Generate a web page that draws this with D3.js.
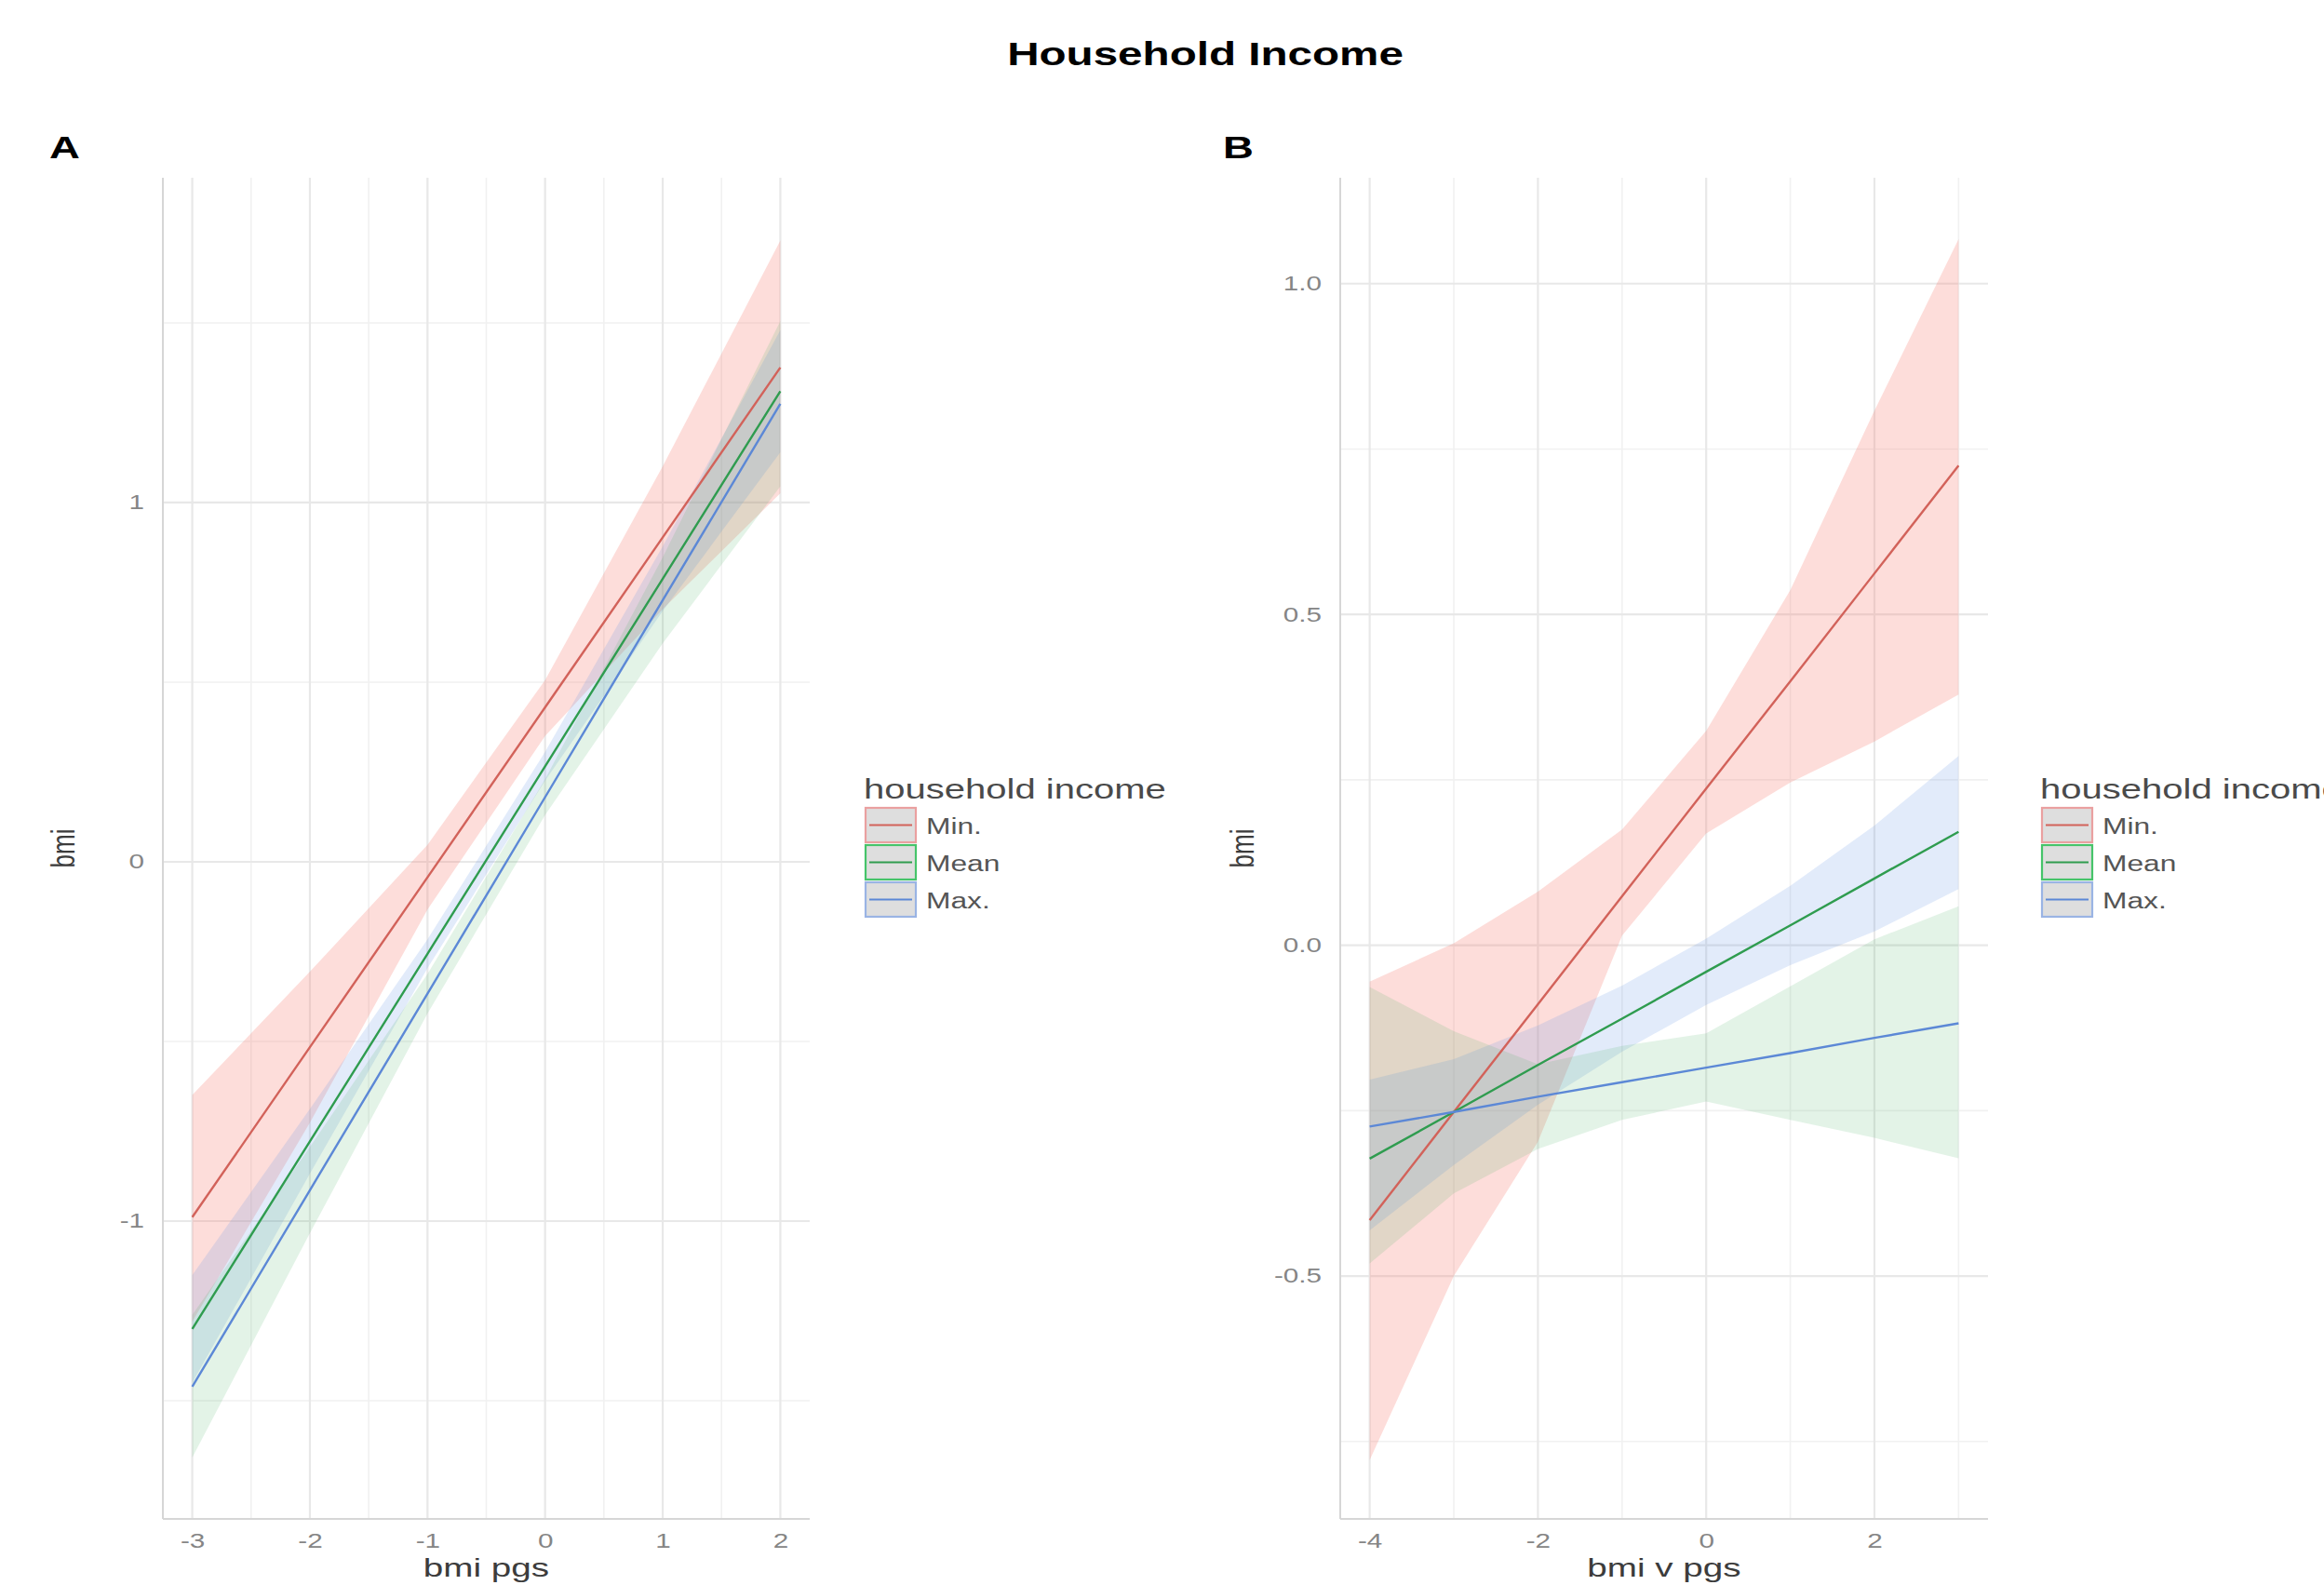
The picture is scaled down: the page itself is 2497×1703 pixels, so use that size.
<!DOCTYPE html>
<html>
<head>
<meta charset="utf-8">
<script src="https://cdn.jsdelivr.net/npm/d3@7"></script>
<style>
  html, body { margin: 0; padding: 0; background: #ffffff; }
  svg { display: block; font-family: "Liberation Sans", Arial, sans-serif; }
</style>
</head>
<body>
<script>
// ---- series and labels ----
const seriesNames = ["Min.", "Mean", "Max."];
const lineColors = ["#d2625a", "#2f9c4f", "#5c88d6"];
// ribbon fills (as rendered by the effects plot, fills follow this order)
const ribbonColors = ["#f8766d", "#6c9de6", "#45ad5c"];
const ribbonOpacity = [0.25, 0.2, 0.15];
const legendBorders = ["#eaa0a0", "#46c46a", "#9ab4e4"];

// ---- panel A: bmi pgs ----
const xA = [-3, -2, -1, 0, 1, 2];
const fitA_min  = [-0.989, -0.516, -0.043, 0.430, 0.903, 1.376];
const lowA_min  = [-1.280, -0.726, -0.133, 0.350, 0.703, 1.026];
const highA_min = [-0.649, -0.306, 0.047, 0.506, 1.101, 1.729];
const fitA_mean  = [-1.300, -0.778, -0.256, 0.266, 0.788, 1.310];
const lowA_mean  = [-1.450, -0.868, -0.296, 0.226, 0.698, 1.140];
const highA_mean = [-1.150, -0.688, -0.216, 0.306, 0.878, 1.480];
const fitA_max  = [-1.461, -0.914, -0.367, 0.180, 0.728, 1.275];
const lowA_max  = [-1.658, -1.034, -0.422, 0.130, 0.608, 1.045];
const highA_max = [-1.261, -0.794, -0.312, 0.230, 0.848, 1.505];

const xTicksA = [-3, -2, -1, 0, 1, 2];
const xMinorA = [-2.5, -1.5, -0.5, 0.5, 1.5];
const yTicksA = [-1, 0, 1];
const yMinorA = [-1.5, -0.5, 0.5, 1.5];
const xDomainA = [-3.25, 2.25];
const yDomainA = [-1.829, 1.904];

// ---- panel B: bmi v pgs ----
const xB = [-4, -3, -2, -1, 0, 1, 2, 3];
const fitB_min  = [-0.4155, -0.252, -0.089, 0.074, 0.237, 0.399, 0.562, 0.725];
const lowB_min  = [-0.778, -0.500, -0.297, 0.0145, 0.169, 0.246, 0.308, 0.379];
const highB_min = [-0.055, 0.003, 0.081, 0.175, 0.324, 0.537, 0.808, 1.067];
const fitB_mean  = [-0.3225, -0.252, -0.181, -0.111, -0.040, 0.030, 0.101, 0.1715];
const lowB_mean  = [-0.431, -0.332, -0.241, -0.161, -0.090, -0.030, 0.021, 0.085];
const highB_mean = [-0.203, -0.172, -0.121, -0.061, 0.010, 0.090, 0.181, 0.286];
const fitB_max  = [-0.274, -0.252, -0.229, -0.207, -0.185, -0.163, -0.140, -0.118];
const lowB_max  = [-0.481, -0.375, -0.308, -0.264, -0.236, -0.264, -0.291, -0.322];
const highB_max = [-0.063, -0.130, -0.180, -0.152, -0.133, -0.062, 0.009, 0.059];

const xTicksB = [-4, -2, 0, 2];
const xMinorB = [-3, -1, 1, 3];
const yTicksB = [-0.5, 0, 0.5, 1.0];
const yMinorB = [-0.75, -0.25, 0.25, 0.75];
const xDomainB = [-4.35, 3.35];
const yDomainB = [-0.867, 1.160];

const chartTitle = "Household Income";
const legendTitle = "household income";

// ---- drawing ----
const W = 2497, H = 1703;
const SX = 1.38; // horizontal glyph stretch used throughout the figure

const svg = d3.select("body").append("svg")
  .attr("width", W).attr("height", H)
  .attr("viewBox", `0 0 ${W} ${H}`);
svg.append("rect").attr("width", W).attr("height", H).attr("fill", "#ffffff");

function stretchedText(parent, x, y, str, size, opts = {}) {
  const g = parent.append("g")
    .attr("transform", `translate(${x},${y}) scale(${SX},1)` + (opts.rotate ? ` rotate(${opts.rotate})` : ""));
  return g.append("text")
    .text(str)
    .attr("font-size", size)
    .attr("font-weight", opts.bold ? "bold" : "normal")
    .attr("fill", opts.fill || "#333333")
    .attr("text-anchor", opts.anchor || "start")
    .attr("dy", opts.dy || 0);
}

function zipSeries(xs, fit, low, high) {
  return xs.map((x, i) => ({ x, fit: fit[i], low: low[i], high: high[i] }));
}

function drawPanel(cfg) {
  const g = svg.append("g");
  const x = d3.scaleLinear().domain(cfg.xDomain).range([cfg.left, cfg.right]);
  const y = d3.scaleLinear().domain(cfg.yDomain).range([cfg.bottom, cfg.top]);

  // minor grid
  g.append("g").selectAll("line").data(cfg.xMinor).join("line")
    .attr("x1", d => x(d)).attr("x2", d => x(d))
    .attr("y1", cfg.top).attr("y2", cfg.bottom)
    .attr("stroke", "#f1f1f1").attr("stroke-width", 1.6);
  g.append("g").selectAll("line").data(cfg.yMinor).join("line")
    .attr("y1", d => y(d)).attr("y2", d => y(d))
    .attr("x1", cfg.left).attr("x2", cfg.right)
    .attr("stroke", "#f1f1f1").attr("stroke-width", 1.6);
  // major grid
  g.append("g").selectAll("line").data(cfg.xTicks).join("line")
    .attr("x1", d => x(d)).attr("x2", d => x(d))
    .attr("y1", cfg.top).attr("y2", cfg.bottom)
    .attr("stroke", "#e8e8e8").attr("stroke-width", 2.2);
  g.append("g").selectAll("line").data(cfg.yTicks).join("line")
    .attr("y1", d => y(d)).attr("y2", d => y(d))
    .attr("x1", cfg.left).attr("x2", cfg.right)
    .attr("stroke", "#e8e8e8").attr("stroke-width", 2.2);

  // axis lines
  g.append("line").attr("x1", cfg.left).attr("x2", cfg.left)
    .attr("y1", cfg.top).attr("y2", cfg.bottom)
    .attr("stroke", "#d6d6d6").attr("stroke-width", 2);
  g.append("line").attr("x1", cfg.left).attr("x2", cfg.right)
    .attr("y1", cfg.bottom).attr("y2", cfg.bottom)
    .attr("stroke", "#d6d6d6").attr("stroke-width", 2);

  // confidence ribbons
  const area = d3.area().x(d => x(d.x)).y0(d => y(d.low)).y1(d => y(d.high));
  cfg.series.forEach((s, i) => {
    g.append("path").datum(s)
      .attr("d", area)
      .attr("fill", ribbonColors[i])
      .attr("fill-opacity", ribbonOpacity[i])
      .attr("stroke", "none");
  });
  // predicted lines
  const line = d3.line().x(d => x(d.x)).y(d => y(d.fit));
  cfg.series.forEach((s, i) => {
    g.append("path").datum(s)
      .attr("d", line)
      .attr("fill", "none")
      .attr("stroke", lineColors[i])
      .attr("stroke-width", 2.4);
  });

  // tick labels
  const yAxis = d3.axisLeft(y).tickValues(cfg.yTicks).tickFormat(cfg.yFormat).tickSize(0).tickPadding(0);
  const ya = g.append("g").attr("transform", `translate(${cfg.left},0)`).call(yAxis);
  ya.select(".domain").remove();
  ya.selectAll("text")
    .attr("transform", `scale(${SX},1)`)
    .attr("x", -20 / SX)
    .attr("font-size", 21.5)
    .attr("fill", "#858585")
    .attr("font-family", "Liberation Sans, Arial, sans-serif");

  const xAxis = d3.axisBottom(x).tickValues(cfg.xTicks).tickFormat(d => String(d)).tickSize(0).tickPadding(0);
  const xa = g.append("g").attr("transform", `translate(0,${cfg.bottom})`).call(xAxis);
  xa.select(".domain").remove();
  xa.selectAll("text")
    .attr("transform", `scale(${SX},1)`)
    .attr("y", 16)
    .attr("x", 0)
    .attr("font-size", 21.5)
    .attr("fill", "#858585")
    .attr("font-family", "Liberation Sans, Arial, sans-serif");

  // axis titles
  stretchedText(g, (cfg.left + cfg.right) / 2, 1694, cfg.xTitle, 28, { anchor: "middle", fill: "#3c3c3c" });
  stretchedText(g, cfg.yTitleX, (cfg.top + cfg.bottom) / 2, "bmi", 26,
    { anchor: "middle", fill: "#3c3c3c", rotate: -90, dy: "0.35em" });

  // panel tag
  stretchedText(g, cfg.tagX, 170, cfg.tag, 33, { bold: true, fill: "#000000" });

  // legend
  const lg = g.append("g");
  stretchedText(lg, cfg.legendX, 858, legendTitle, 29, { fill: "#4a4a4a" });
  seriesNames.forEach((name, i) => {
    const ky = 868 + i * 40;
    lg.append("rect")
      .attr("x", cfg.legendX + 2).attr("y", ky)
      .attr("width", 54).attr("height", 37)
      .attr("fill", "#dedede")
      .attr("stroke", legendBorders[i]).attr("stroke-width", 2.2);
    lg.append("line")
      .attr("x1", cfg.legendX + 6).attr("x2", cfg.legendX + 52)
      .attr("y1", ky + 18.5).attr("y2", ky + 18.5)
      .attr("stroke", lineColors[i]).attr("stroke-width", 2.2);
    stretchedText(lg, cfg.legendX + 67, ky + 28, name, 23, { fill: "#555555" });
  });
}

// figure title
stretchedText(svg, 1295, 70, chartTitle, 34.5, { bold: true, anchor: "middle", fill: "#000000" });

drawPanel({
  tag: "A", tagX: 53,
  left: 175, right: 870, top: 191, bottom: 1632,
  xDomain: xDomainA, yDomain: yDomainA,
  xTicks: xTicksA, xMinor: xMinorA, yTicks: yTicksA, yMinor: yMinorA,
  yFormat: d => String(d),
  xTitle: "bmi pgs", yTitleX: 67,
  legendX: 928,
  series: [
    zipSeries(xA, fitA_min, lowA_min, highA_min),
    zipSeries(xA, fitA_mean, lowA_mean, highA_mean),
    zipSeries(xA, fitA_max, lowA_max, highA_max)
  ]
});

drawPanel({
  tag: "B", tagX: 1314,
  left: 1440, right: 2136, top: 191, bottom: 1632,
  xDomain: xDomainB, yDomain: yDomainB,
  xTicks: xTicksB, xMinor: xMinorB, yTicks: yTicksB, yMinor: yMinorB,
  yFormat: d => d.toFixed(1),
  xTitle: "bmi v pgs", yTitleX: 1334,
  legendX: 2192,
  series: [
    zipSeries(xB, fitB_min, lowB_min, highB_min),
    zipSeries(xB, fitB_mean, lowB_mean, highB_mean),
    zipSeries(xB, fitB_max, lowB_max, highB_max)
  ]
});
</script>
</body>
</html>
